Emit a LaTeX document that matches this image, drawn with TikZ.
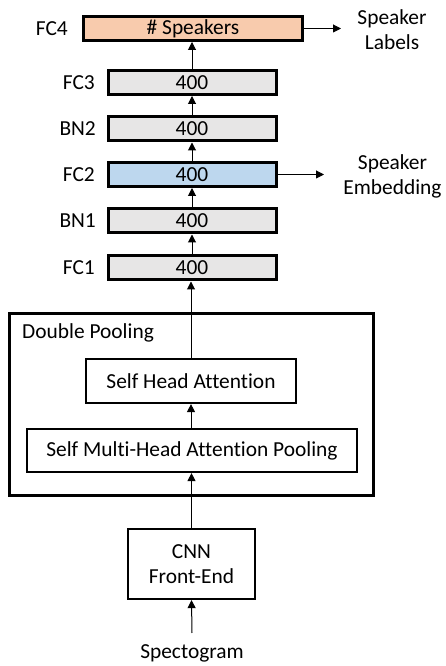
\documentclass[tikz,border=0pt]{standalone}
\usepackage{fontspec}
\setmainfont{Carlito}[Ligatures=CommonOff]
\usetikzlibrary{arrows.meta}
\definecolor{boxgray}{HTML}{E7E6E6}
\definecolor{boxorange}{HTML}{F8CBAD}
\definecolor{boxblue}{HTML}{BDD7EE}
\begin{document}
\begin{tikzpicture}[x=1pt,y=1pt,
  every node/.style={font=\fontsize{21.4}{25}\selectfont, inner sep=0pt},
  layer/.style={draw, line width=3pt, minimum width=168pt, minimum height=24pt, fill=boxgray},
  plainbox/.style={draw, line width=2.2pt},
  lname/.style={anchor=east},
  conn/.style={line width=1pt, -{Triangle[length=8pt,width=8pt]}}
]
\useasboundingbox (0,0) rectangle (446,666);
% FC stack
\node[layer, fill=boxorange, minimum width=219pt] (fc4) at (193,637.5) {\# Speakers};
\node[layer] (fc3) at (192,583.5) {400};
\node[layer] (bn2) at (192,537) {400};
\node[layer, fill=boxblue] (fc2) at (192,491.5) {400};
\node[layer] (bn1) at (192,445) {400};
\node[layer] (fc1) at (192,398) {400};
% left labels
\node[lname] (l4) at (68,637.5) {FC4};
\node[lname] (l3) at (95,583.5) {FC3};
\node[lname] (l2b) at (96,537) {BN2};
\node[lname] (l2) at (95,491.5) {FC2};
\node[lname] (l1b) at (96,445) {BN1};
\node[lname] (l1) at (95,398) {FC1};
% outputs
\node[align=center] (splab) at (392,636.5) {Speaker\\Labels};
\node[align=center] (spemb) at (392.5,490) {Speaker\\Embedding};
\coordinate (e4) at (341,637.5);
\coordinate (e2) at (324,491.5);
% double pooling
\node[draw, line width=3pt, minimum width=364pt, minimum height=182pt] (dp) at (191.5,261.5) {};
\node[anchor=west] (dplab) at (22,333) {Double Pooling};
\node[plainbox, minimum width=210pt, minimum height=44pt] (sha) at (191,285) {Self Head Attention};
\node[plainbox, minimum width=330pt, minimum height=43pt] (smha) at (192,215.5) {Self Multi-Head Attention Pooling};
% front end
\node[plainbox, align=center, minimum width=127pt, minimum height=70pt] (cnn) at (191.5,102) {CNN\\Front-End};
\node (spec) at (192,13) {Spectogram};
\coordinate (sin) at (192,33);
% connectors
\draw[conn] (sin) -- (cnn.south);
\draw[conn] (cnn.north) -- (cnn.north |- smha.south);
\draw[conn] (smha.north -| sha.south) -- (sha.south);
\draw[conn] (sha.north) -- (sha.north |- fc1.south);
\draw[conn] (fc1.north) -- (bn1.south);
\draw[conn] (bn1.north) -- (fc2.south);
\draw[conn] (fc2.north) -- (bn2.south);
\draw[conn] (bn2.north) -- (fc3.south);
\draw[conn] (fc3.north) -- (fc3.north |- fc4.south);
\draw[conn] (fc4.east) -- (e4);
\draw[conn] (fc2.east) -- (e2);
\end{tikzpicture}
\end{document}
